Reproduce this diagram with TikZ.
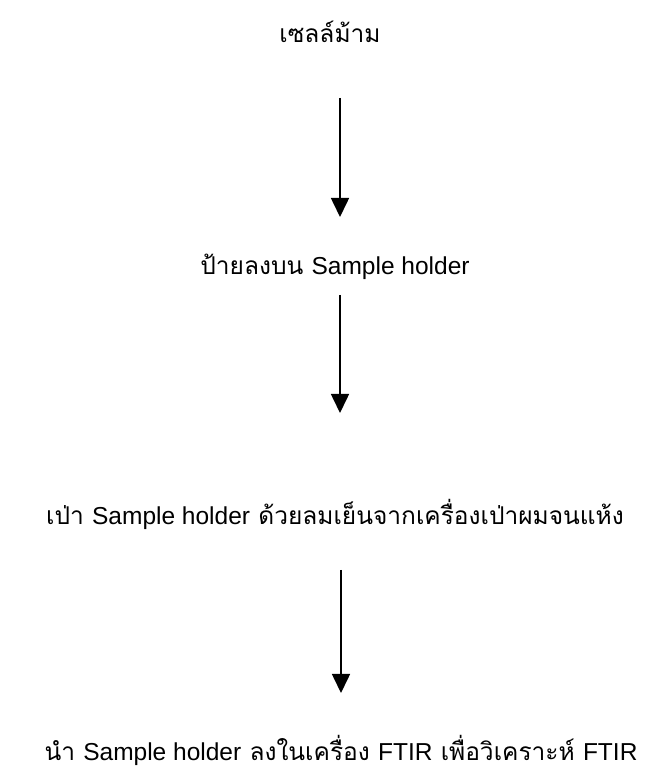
\documentclass[tikz,border=0pt]{standalone}
\usepackage{fontspec}
\setmainfont[Script=Thai]{Loma}
\newfontfamily\latinfont{Liberation Sans}
\newcommand{\lt}[1]{{\latinfont #1}}
\usetikzlibrary{arrows.meta}
\tikzset{
  lbl/.style={anchor=base, inner sep=0pt, font=\fontsize{24.5}{29}\selectfont},
  arr/.style={line width=1.6pt, -{Triangle[width=18pt,length=19pt]}}
}
\begin{document}
\begin{tikzpicture}[x=1pt,y=1pt]
\useasboundingbox (0,0) rectangle (656,772);
\node[lbl] (t1) at (330,729) {เซลล์ม้าม};
\node[lbl] (t2) at (335,497) {ป้ายลงบน \lt{Sample holder}};
\node[lbl] (t3) at (335,247) {เป่า \lt{Sample holder} ด้วยลมเย็นจากเครื่องเป่าผมจนแห้ง};
\node[lbl] (t4) at (341,12) {นำ \lt{Sample holder} ลงในเครื่อง \lt{FTIR} เพื่อวิเคราะห์ \lt{FTIR}};
\coordinate (a1s) at (340,674);
\coordinate (a1e) at (340,555);
\coordinate (a2s) at (340,477);
\coordinate (a2e) at (340,359);
\coordinate (a3s) at (341,202);
\coordinate (a3e) at (341,79);
\draw[arr] (a1s) -- (a1e);
\draw[arr] (a2s) -- (a2e);
\draw[arr] (a3s) -- (a3e);
\end{tikzpicture}
\end{document}
